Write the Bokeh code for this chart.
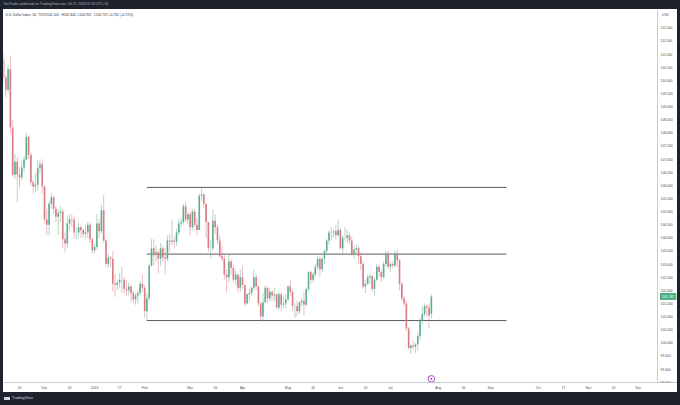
import pandas as pd
from bokeh.plotting import figure
from bokeh.models import Range1d, FixedTicker, Label, Div, ColumnDataSource, NumeralTickFormatter
from bokeh.layouts import column, row
from bokeh.embed import file_html
from bokeh.resources import INLINE

# ---------------- data (daily candles, business days from first_day) ----------------
first_day = "2022-11-07"
last_axis_day = "2023-12-29"

opens = [
    # Nov 2022
    110.80, 110.10, 109.64, 110.42, 108.20, 106.40, 106.90, 106.40, 106.30, 106.68, 106.98, 107.84, 107.16, 106.12, 105.95, 106.02, 106.65, 106.80,
    # Dec 2022
    105.95, 104.70, 104.50, 105.30, 105.55, 105.10, 104.80, 104.95, 105.00, 103.95, 103.78, 104.55, 104.72, 104.70, 104.20, 104.20, 104.40, 104.30, 104.15, 104.20, 104.50, 103.95,
    # Jan 2023
    103.52, 103.65, 104.55, 104.25, 105.05, 103.90, 103.00, 103.25, 103.20, 102.25, 102.20, 102.30, 102.40, 102.40, 102.05, 102.00, 102.15, 101.90, 101.65, 101.80, 101.90, 102.25,
    # Feb 2023
    102.10, 101.20, 101.70, 102.95, 103.60, 103.40, 103.45, 103.20, 103.60, 103.25, 103.20, 103.90, 103.85, 103.90, 103.85, 104.20, 104.55, 104.60, 105.20, 104.70,
    # Mar 2023
    104.90, 104.40, 105.00, 104.50, 104.30, 105.60, 105.65, 105.30, 104.60, 103.60, 103.60, 104.65, 104.40, 103.90, 103.30, 103.20, 102.60, 102.50, 103.10, 102.85, 102.40, 102.60, 102.10,
    # Apr 2023
    102.50, 102.20, 101.50, 101.85, 101.90, 102.10, 102.50, 102.15, 101.50, 101.00, 101.55, 102.10, 101.70, 101.95, 101.80, 101.85, 101.35, 101.85, 101.45, 101.50,
    # May 2023
    101.65, 102.15, 101.95, 101.40, 101.40, 101.20, 101.55, 101.60, 101.45, 102.05, 102.70, 102.40, 102.60, 102.90, 103.20, 102.80, 103.20, 103.50, 103.90, 104.20, 104.20, 104.25, 104.10,
    # Jun 2023
    104.30, 103.60, 104.00, 104.00, 104.10, 103.90, 103.35, 103.55, 103.60, 103.30, 103.00, 102.15, 102.25, 102.50, 102.55, 102.05, 102.40, 102.90, 102.70, 102.50, 103.00, 103.40,
    # Jul 2023
    102.90, 103.00, 102.95, 103.40, 103.15, 102.25, 101.70, 101.50, 100.55, 99.80, 99.90, 99.85, 99.95, 100.25, 100.85, 101.10, 101.40, 101.35, 101.105,
]
highs = [
    111.00, 110.20, 110.55, 110.95, 108.50, 107.20, 107.10, 106.70, 106.95, 107.10, 107.99, 107.90, 107.25, 106.20, 106.45, 106.95, 106.95, 107.00,
    106.00, 105.10, 105.40, 105.70, 105.60, 105.20, 105.10, 105.20, 105.10, 104.20, 104.85, 104.90, 104.90, 104.80, 104.40, 104.60, 104.50, 104.35, 104.50, 104.60, 104.60, 104.00,
    103.75, 104.90, 104.70, 105.25, 105.63, 103.95, 103.40, 103.30, 103.50, 102.60, 102.40, 102.65, 102.90, 102.50, 102.40, 102.30, 102.20, 102.00, 101.90, 102.00, 102.35, 102.60,
    102.20, 101.90, 103.00, 103.95, 103.95, 103.70, 103.55, 103.80, 103.70, 103.60, 104.10, 104.15, 104.70, 104.05, 104.35, 104.70, 104.75, 105.30, 105.35, 105.00,
    105.00, 105.10, 105.10, 104.75, 105.70, 105.88, 105.70, 105.30, 104.60, 103.90, 105.10, 104.90, 104.50, 104.10, 103.70, 103.40, 102.80, 103.40, 103.20, 102.95, 102.75, 102.60, 102.80,
    102.90, 102.20, 101.90, 102.05, 102.15, 102.80, 102.60, 102.20, 101.55, 101.90, 102.20, 102.15, 102.10, 102.00, 102.10, 101.90, 101.95, 101.90, 101.80, 101.85,
    102.20, 102.40, 102.00, 101.50, 101.60, 101.60, 101.70, 101.95, 102.10, 102.75, 102.75, 102.70, 103.00, 103.30, 103.30, 103.25, 103.55, 103.95, 104.30, 104.40, 104.30, 104.50, 104.70,
    104.40, 104.10, 104.40, 104.30, 104.20, 104.05, 103.70, 103.75, 103.70, 103.45, 103.10, 102.40, 102.60, 102.65, 102.60, 102.50, 103.00, 102.95, 102.80, 103.10, 103.50, 103.50,
    103.10, 103.10, 103.50, 103.55, 103.20, 102.30, 101.80, 101.60, 100.60, 99.95, 100.10, 100.00, 100.40, 100.95, 101.40, 101.50, 101.45, 101.50, 101.840,
]
lows = [
    109.90, 109.35, 109.50, 107.98, 106.32, 106.25, 105.35, 105.90, 106.20, 106.50, 106.95, 107.00, 106.00, 105.70, 105.75, 105.80, 106.45, 105.70,
    104.55, 104.10, 104.10, 105.10, 104.90, 104.60, 104.10, 104.60, 103.60, 103.45, 103.60, 104.30, 104.40, 103.95, 103.95, 104.00, 104.00, 104.00, 103.95, 104.00, 103.80, 103.40,
    103.40, 103.55, 104.00, 104.15, 103.80, 102.90, 102.85, 102.90, 101.95, 101.75, 102.00, 102.10, 101.90, 101.90, 101.80, 101.80, 101.55, 101.50, 101.45, 101.50, 101.80, 101.95,
    100.95, 100.82, 101.60, 102.90, 102.95, 103.10, 102.65, 102.95, 103.10, 102.60, 103.10, 103.45, 103.70, 103.60, 103.70, 104.10, 104.40, 104.50, 104.60, 104.50,
    104.10, 104.30, 104.40, 104.10, 104.30, 105.40, 105.15, 104.00, 103.45, 103.20, 103.50, 104.15, 103.75, 103.25, 103.10, 102.40, 101.90, 102.30, 102.60, 102.30, 102.20, 101.90, 101.95,
    102.05, 101.40, 101.45, 101.60, 101.80, 102.00, 102.00, 101.40, 100.85, 100.79, 101.50, 101.50, 101.60, 101.60, 101.60, 101.30, 101.25, 101.20, 101.30, 101.30,
    101.60, 101.80, 101.20, 100.95, 101.00, 101.10, 101.40, 101.05, 101.40, 101.95, 102.25, 102.30, 102.50, 102.80, 102.50, 102.70, 103.00, 103.40, 103.75, 103.90, 104.00, 103.95, 104.05,
    103.55, 103.40, 103.90, 103.80, 103.75, 103.30, 103.20, 103.40, 103.00, 102.75, 102.05, 101.90, 102.20, 102.25, 101.95, 101.80, 102.35, 102.50, 102.30, 102.45, 102.90, 102.80,
    102.70, 102.85, 102.90, 102.90, 102.00, 101.60, 101.40, 100.45, 99.75, 99.57, 99.75, 99.60, 99.70, 100.10, 100.70, 101.00, 101.00, 100.55, 100.931,
]
closes = [
    110.10, 109.64, 110.42, 108.20, 106.40, 106.90, 106.40, 106.30, 106.68, 106.98, 107.84, 107.16, 106.12, 105.95, 106.02, 106.65, 106.80, 105.95,
    104.70, 104.50, 105.30, 105.55, 105.10, 104.80, 104.95, 105.00, 103.95, 103.78, 104.55, 104.72, 104.70, 104.20, 104.20, 104.40, 104.30, 104.15, 104.20, 104.50, 103.95, 103.52,
    103.65, 104.55, 104.25, 105.05, 103.90, 103.00, 103.25, 103.20, 102.25, 102.20, 102.30, 102.40, 102.40, 102.05, 102.00, 102.15, 101.90, 101.65, 101.80, 101.90, 102.25, 102.10,
    101.20, 101.70, 102.95, 103.60, 103.40, 103.45, 103.20, 103.60, 103.25, 103.20, 103.90, 103.85, 103.90, 103.85, 104.20, 104.55, 104.60, 105.20, 104.70, 104.90,
    104.40, 105.00, 104.50, 104.30, 105.60, 105.65, 105.30, 104.60, 103.60, 103.60, 104.65, 104.40, 103.90, 103.30, 103.20, 102.60, 102.50, 103.10, 102.85, 102.40, 102.60, 102.10, 102.50,
    102.20, 101.50, 101.85, 101.90, 102.10, 102.50, 102.15, 101.50, 101.00, 101.55, 102.10, 101.70, 101.95, 101.80, 101.85, 101.35, 101.85, 101.45, 101.50, 101.65,
    102.15, 101.95, 101.40, 101.40, 101.20, 101.55, 101.60, 101.45, 102.05, 102.70, 102.40, 102.60, 102.90, 103.20, 102.80, 103.20, 103.50, 103.90, 104.20, 104.20, 104.25, 104.10, 104.30,
    103.60, 104.00, 104.00, 104.10, 103.90, 103.35, 103.55, 103.60, 103.30, 103.00, 102.15, 102.25, 102.50, 102.55, 102.05, 102.40, 102.90, 102.70, 102.50, 103.00, 103.40, 102.90,
    103.00, 102.95, 103.40, 103.15, 102.25, 101.70, 101.50, 100.55, 99.80, 99.90, 99.85, 99.95, 100.25, 100.85, 101.10, 101.40, 101.35, 101.035, 101.767,
]

tick_dates = ["2022-11-16", "2022-12-01", "2022-12-16", "2023-01-02", "2023-01-17", "2023-02-01",
              "2023-03-01", "2023-03-16", "2023-04-03", "2023-05-01", "2023-05-16", "2023-06-01",
              "2023-06-16", "2023-07-03", "2023-08-01", "2023-08-16", "2023-09-01", "2023-10-02",
              "2023-10-17", "2023-11-01", "2023-11-16", "2023-12-01"]
tick_labels = ["16", "Dec", "16", "2023", "17", "Feb", "Mar", "16", "Apr", "May", "16", "Jun",
               "16", "Jul", "Aug", "16", "Sep", "Oct", "17", "Nov", "16", "Dec"]
price_ticks = [98.5, 99.0, 99.5, 100.0, 100.5, 101.0, 101.5, 102.0, 102.5, 103.0, 103.5, 104.0,
               104.5, 105.0, 105.5, 106.0, 106.5, 107.0, 107.5, 108.0, 108.5, 109.0, 109.5, 110.0,
               110.5, 111.0, 111.5, 112.0]

level_prices = [105.92, 103.38, 100.85]
level_from = "2023-02-02"
level_to = "2023-09-12"
event_dates = ["2023-07-27"]

header_text = "KeiTrader published on TradingView.com, Jul 27, 2023 07:00 UTC-10"
title_text = "U.S. Dollar Index, 1D, TVC"
ohlc_texts = ["O101.105", "H101.840", "L100.931", "C101.767", "+0.732 (+0.72%)"]
last_price = 101.767
currency = "USD"
brand_text = "TradingView"

# ---------------- layout calibration (pixels of the reference) ----------------
PX_PER_BAR = 2.2757
PX_PER_UNIT = 26.33
def ix(xref):
    return 7 + (xref - 19) / PX_PER_BAR
def py(yref):
    return 112 - (yref - 27.3) / PX_PER_UNIT

days = pd.bdate_range(first_day, last_axis_day)
pos = {d.strftime("%Y-%m-%d"): i for i, d in enumerate(days)}

UP = "#5fad8e"
DOWN = "#d97a84"
n = len(closes)
xs = list(range(n))
cols = [UP if c >= o else DOWN for o, c in zip(opens, closes)]
src = ColumnDataSource(dict(
    x=xs, o=opens, h=highs, l=lows, c=closes,
    top=[max(o, c) for o, c in zip(opens, closes)],
    bottom=[min(o, c) for o, c in zip(opens, closes)],
    col=cols,
))

DARK = "#1e222d"
FONT = "Liberation Sans"

# frame covers the whole white pane (price scale included); the price axis is pinned inside it
p = figure(width=674, height=383, output_backend="svg", toolbar_location=None,
           x_range=Range1d(ix(3), ix(677)), y_range=Range1d(py(383), py(9)),
           y_axis_location="right", min_border_left=0, min_border_right=0,
           min_border_top=0, min_border_bottom=9, margin=(0, 0, 0, 0))
p.background_fill_color = "white"
p.border_fill_color = "white"
p.outline_line_color = None
p.xgrid.visible = False
p.ygrid.visible = False

for ax in (p.xaxis[0], p.yaxis[0]):
    ax.major_tick_in = 0
    ax.major_tick_out = 0
    ax.minor_tick_in = 0
    ax.minor_tick_out = 0
    ax.axis_line_color = "#c9ccd3"
    ax.axis_line_width = 1
    ax.major_label_text_font_size = "3.4px"
    ax.major_label_text_color = "#4a4e59"
    ax.major_label_text_font = FONT
    ax.major_label_standoff = 3

p.yaxis[0].fixed_location = ix(657)

tick_pos = [pos[d] for d in tick_dates]
p.xaxis.ticker = FixedTicker(ticks=tick_pos)
p.xaxis.major_label_overrides = {t: lab for t, lab in zip(tick_pos, tick_labels)}
p.yaxis.ticker = FixedTicker(ticks=price_ticks)
p.yaxis.formatter = NumeralTickFormatter(format="0.000")

# horizontal levels
p.segment(x0=[pos[level_from]] * len(level_prices), x1=[pos[level_to]] * len(level_prices),
          y0=level_prices, y1=level_prices, line_color="#5a5d66", line_width=1.0)

# candles
p.segment(x0="x", x1="x", y0="l", y1="h", source=src, line_color="col", line_width=0.75, line_alpha=0.65)
p.vbar(x="x", width=0.7, top="top", bottom="bottom", source=src, fill_color="col", line_color=None)

# event marker
ev_x = [pos[d] for d in event_dates]
p.scatter(x=ev_x, y=[py(379.3)] * len(ev_x), size=6.5, marker="circle", fill_color="white",
          line_color="#ab47bc", line_width=1)
p.scatter(x=ev_x, y=[py(379.3)] * len(ev_x), size=2, marker="circle", fill_color="#ab47bc",
          line_color=None)

# legend texts
p.add_layout(Label(x=ix(5), y=py(14), text=title_text, text_font=FONT, text_font_size="3.3px",
                   text_baseline="middle", text_color="#2a2e39"))
for xr, t in zip([44, 61, 77, 93, 108], ohlc_texts):
    p.add_layout(Label(x=ix(xr), y=py(14), text=t, text_font=FONT, text_font_size="3.3px",
                       text_baseline="middle", text_color="#2a2e39"))
p.add_layout(Label(x=ix(665), y=py(14), text=currency, text_font=FONT, text_font_size="3.3px",
                   text_baseline="middle", text_align="center", text_color="#4a4e59"))
p.add_layout(Label(x=ix(659.5), y=last_price, text=f"{last_price:.3f}", text_font=FONT,
                   text_font_size="3.4px", text_baseline="middle", text_color="white",
                   background_fill_color="#4caf7d", padding=2))

# dark frame of the screenshot
def bar_styles(h, size):
    return {"background-color": DARK, "overflow": "hidden", "font-size": size,
            "line-height": f"{h}px", "color": "#b2b5be", "font-family": FONT}

top_bar = Div(text=(f'<div style="font-family:{FONT};font-size:3.4px;line-height:9px;'
                    f'color:#b2b5be;padding-left:4px;white-space:nowrap">{header_text}</div>'),
              width=680, height=9, styles=bar_styles(9, "3.4px"), margin=(0, 0, 0, 0))
left_bar = Div(text="", width=3, height=383, styles={"background-color": DARK}, margin=(0, 0, 0, 0))
right_bar = Div(text="", width=3, height=383, styles={"background-color": DARK}, margin=(0, 0, 0, 0))
bottom_bar = Div(text=(f'<div style="font-family:{FONT};font-size:3.8px;line-height:12px;'
                       f'color:#d1d4dc;padding-left:4px;white-space:nowrap">'
                       f'<span style="display:inline-block;width:6px;height:3px;background:#d1d4dc;'
                       f'vertical-align:middle;margin-right:2px"></span>{brand_text}</div>'),
                 width=680, height=13, styles=bar_styles(12, "3.8px"), margin=(0, 0, 0, 0))

layout = column(top_bar, row(left_bar, p, right_bar, spacing=0), bottom_bar, spacing=0)

open("out.html", "w").write(file_html(layout, INLINE))
